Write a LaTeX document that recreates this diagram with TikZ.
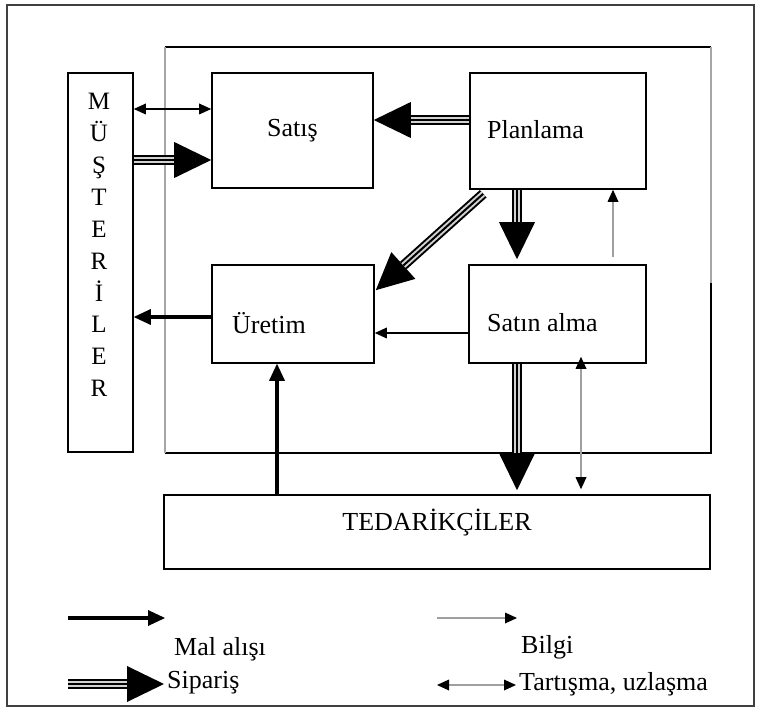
\documentclass[tikz,border=0pt]{standalone}
\usepackage{fontspec}
\setmainfont{Liberation Serif}
\usetikzlibrary{arrows.meta,calc}
\begin{document}
\begin{tikzpicture}[x=1pt,y=-1pt,
  txt/.style={font=\fontsize{26}{30}\selectfont},
  box/.style={draw=black, line width=1.6pt, inner sep=0pt, txt},
  lbl/.style={inner sep=0pt, anchor=west, txt},
  goods/.style={line width=4.5pt, -{Triangle[length=17pt,width=16pt,line width=0pt]}},
  order/.style={line width=10pt, -{Triangle[length=37pt,width=36pt,line width=0pt]},
    postaction={draw=gray!35, line width=6pt, shorten >=37pt, -},
    postaction={draw=black, line width=2pt, shorten >=37pt, -}},
  info/.style={draw=gray!75, line width=1.3pt,
    -{Triangle[length=12pt,width=11pt,line width=0pt,color=black]}},
  talk/.style={draw=black, line width=1.3pt,
    {Triangle[length=12pt,width=11pt,line width=0pt]}-{Triangle[length=12pt,width=11pt,line width=0pt]}},
  talkgray/.style={draw=gray!75, line width=1.3pt,
    {Triangle[length=12pt,width=11pt,line width=0pt,color=black]}-{Triangle[length=12pt,width=11pt,line width=0pt,color=black]}}
]
\useasboundingbox (0,0) rectangle (760,708);

% outer frame
\draw[draw=black!75, line width=1.8pt] (7,5) rectangle (754,706);

% company boundary
\coordinate (fA) at (165,47);
\coordinate (fB) at (711,453);
\coordinate (fR) at (711,283);
\draw[line width=1.5pt] (fA) -- (fA -| fB);
\draw[line width=1.5pt, gray!70] (fA -| fB) -- (fR);
\draw[line width=1.5pt] (fR) -- (fB) -- (fB -| fA);
\draw[line width=1.3pt, gray!70] (fB -| fA) -- (fA);

% boxes
\node[box, minimum width=65pt, minimum height=379pt] (mus) at (100.5,262.5) {};
\node[align=center, inner sep=0pt, font=\fontsize{25}{31.9}\selectfont] (muslbl) at (99,245)
  {M\\Ü\\Ş\\T\\E\\R\\İ\\L\\E\\R};
\node[box, minimum width=161pt, minimum height=115pt] (satis) at (292.5,130.5) {Satış};
\node[box, minimum width=176pt, minimum height=116pt] (plan) at (558,131) {};
\node[lbl] (planlbl) at (487,130) {Planlama};
\node[box, minimum width=162pt, minimum height=98pt] (uretim) at (293,314) {};
\node[lbl] (uretimlbl) at (232,323) {Üretim};
\node[box, minimum width=177pt, minimum height=98pt] (satin) at (557.5,314) {};
\node[lbl] (satinlbl) at (487,323) {Satın alma};
\node[box, minimum width=546pt, minimum height=74pt] (ted) at (437,532) {};
\node[txt, inner sep=0pt] (tedlbl) at (437,523) {TEDARİKÇİLER};

% connectors
\draw[talk] (mus.east |- 0,109) -- (satis.west |- 0,109);
\draw[order] (mus.east |- 0,160) -- (satis.west |- 0,160);
\draw[order] (plan.west |- 0,120) -- (satis.east |- 0,120);
\draw[order] ($(plan.south west)+(14,4)$) -- ($(uretim.north east)+(1,26)$);
\draw[order] (plan.south -| 517,0) -- ($(satin.north -| 517,0)+(0,-5)$);
\draw[info] ($(satin.north -| 613,0)+(0,-7)$) -- (plan.south -| 613,0);
\draw[draw=black, line width=1.3pt, -{Triangle[length=12pt,width=11pt,line width=0pt]}]
  (satin.west |- 0,333) -- (uretim.east |- 0,333);
\draw[goods] (uretim.west |- 0,317) -- (mus.east |- 0,317);
\draw[goods] (ted.north -| 277,0) -- (uretim.south -| 277,0);
\draw[order] (satin.south -| 517,0) -- ($(ted.north -| 517,0)+(0,-4)$);
\draw[talkgray] ($(satin.south -| 581,0)+(0,-7)$) -- ($(ted.north -| 581,0)+(0,-5)$);

% legend
\coordinate (g1) at (68,618);  \coordinate (g2) at (165,618);
\coordinate (o1) at (68,684);  \coordinate (o2) at (164,684);
\coordinate (i1) at (437,618); \coordinate (i2) at (517,618);
\coordinate (t1) at (437,685); \coordinate (t2) at (516,685);
\draw[goods] (g1) -- (g2);
\draw[order] (o1) -- (o2);
\draw[info] (i1) -- (i2);
\draw[talkgray] (t1) -- (t2);
\node[lbl] (lg) at (174,649) {Mal alışı};
\node[lbl] (lo) at (167,683) {Sipariş};
\node[lbl] (li) at (521,647) {Bilgi};
\node[lbl] (lt) at (519,684) {Tartışma, uzlaşma};
\end{tikzpicture}
\end{document}
